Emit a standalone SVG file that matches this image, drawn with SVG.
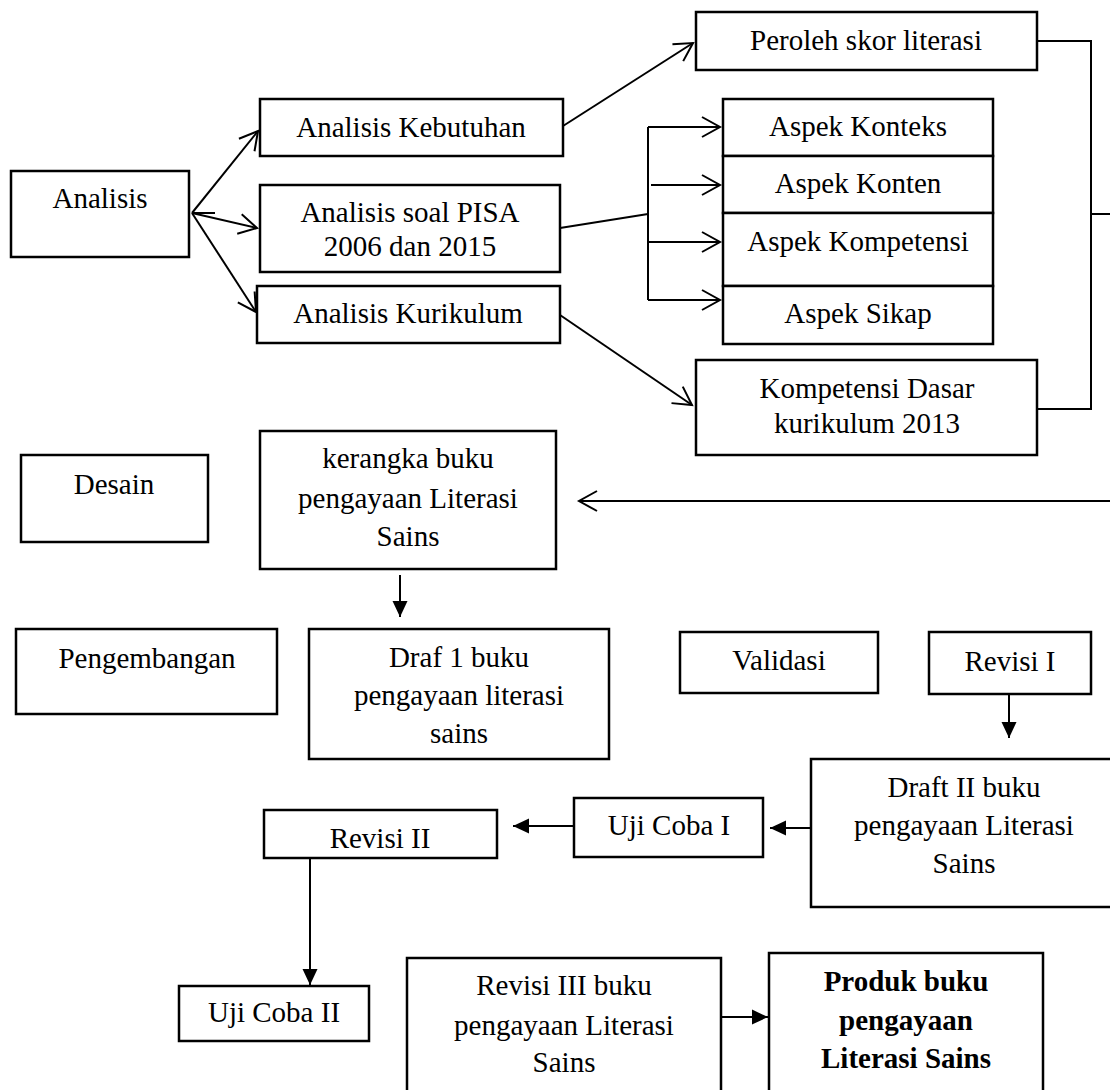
<svg xmlns="http://www.w3.org/2000/svg" width="1110" height="1090" viewBox="0 0 1110 1090">
<style>
.box{fill:#fff;stroke:#000;stroke-width:2.5}
.t{font-family:"Liberation Serif","Times New Roman",serif;font-size:29px;fill:#000;text-anchor:middle}
.b{font-weight:bold}
.ln{fill:none;stroke:#000;stroke-width:2}
</style>
<defs>
<marker id="open" markerUnits="userSpaceOnUse" viewBox="-22 -13 26 26" refX="0" refY="0" markerWidth="26" markerHeight="26" orient="auto">
<path d="M-18,-10 L0,0 L-18,10" fill="none" stroke="#000" stroke-width="2"/>
</marker>
<marker id="filled" markerUnits="userSpaceOnUse" viewBox="-18 -10 20 20" refX="0" refY="0" markerWidth="20" markerHeight="20" orient="auto">
<path d="M-16,-7.5 L0,0 L-16,7.5 Z" fill="#000"/>
</marker>
</defs>
<rect width="1110" height="1090" fill="#fff"/>

<g id="connectors">
<line class="ln" x1="192" y1="213" x2="258" y2="131" marker-end="url(#open)"/>
<line class="ln" x1="192" y1="213" x2="257" y2="228" marker-end="url(#open)"/>
<line class="ln" x1="192" y1="213" x2="256" y2="312" marker-end="url(#open)"/>
<line class="ln" x1="192" y1="213" x2="215" y2="213"/>
<line class="ln" x1="563" y1="126" x2="693" y2="43" marker-end="url(#open)"/>
<line class="ln" x1="560" y1="228" x2="648" y2="214"/>
<line class="ln" x1="648" y1="127" x2="648" y2="300"/>
<line class="ln" x1="648" y1="127" x2="720" y2="127" marker-end="url(#open)"/>
<line class="ln" x1="651" y1="185" x2="720" y2="185" marker-end="url(#open)"/>
<line class="ln" x1="648" y1="242" x2="720" y2="242" marker-end="url(#open)"/>
<line class="ln" x1="648" y1="300" x2="720" y2="300" marker-end="url(#open)"/>
<line class="ln" x1="560" y1="315" x2="692" y2="405" marker-end="url(#open)"/>
<polyline class="ln" points="1037,41 1091,41 1091,409 1037,409"/>
<line class="ln" x1="1091" y1="214" x2="1112" y2="214"/>
<line class="ln" x1="1112" y1="501" x2="579" y2="501" marker-end="url(#open)"/>
<line class="ln" x1="400" y1="575" x2="400" y2="617" marker-end="url(#filled)"/>
<line class="ln" x1="1009" y1="694" x2="1009" y2="738" marker-end="url(#filled)"/>
<line class="ln" x1="811" y1="828" x2="770" y2="828" marker-end="url(#filled)"/>
<line class="ln" x1="574" y1="826" x2="513" y2="826" marker-end="url(#filled)"/>
<line class="ln" x1="310" y1="858" x2="310" y2="985" marker-end="url(#filled)"/>
<line class="ln" x1="721" y1="1017" x2="768" y2="1017" marker-end="url(#filled)"/>
</g>

<g id="analisis"><rect class="box" x="11" y="171" width="178" height="86"/><text class="t" x="100" y="208">Analisis</text></g>
<g id="analisis-kebutuhan"><rect class="box" x="260" y="99" width="303" height="57"/><text class="t" x="411" y="137">Analisis Kebutuhan</text></g>
<g id="analisis-pisa"><rect class="box" x="260" y="185" width="300" height="87"/><text class="t" x="410" y="222">Analisis soal PISA</text><text class="t" x="410" y="256">2006 dan 2015</text></g>
<g id="analisis-kurikulum"><rect class="box" x="257" y="286" width="303" height="57"/><text class="t" x="408" y="323">Analisis Kurikulum</text></g>
<g id="peroleh"><rect class="box" x="696" y="12" width="341" height="58"/><text class="t" x="866" y="50">Peroleh skor literasi</text></g>
<g id="aspek-konteks"><rect class="box" x="723" y="99" width="270" height="57"/><text class="t" x="858" y="136">Aspek Konteks</text></g>
<g id="aspek-konten"><rect class="box" x="723" y="156" width="270" height="57"/><text class="t" x="858" y="193">Aspek Konten</text></g>
<g id="aspek-kompetensi"><rect class="box" x="723" y="213" width="270" height="73"/><text class="t" x="858" y="251">Aspek Kompetensi</text></g>
<g id="aspek-sikap"><rect class="box" x="723" y="286" width="270" height="58"/><text class="t" x="858" y="323">Aspek Sikap</text></g>
<g id="kompetensi-dasar"><rect class="box" x="696" y="360" width="341" height="95"/><text class="t" x="867" y="398">Kompetensi Dasar</text><text class="t" x="867" y="433">kurikulum 2013</text></g>
<g id="desain"><rect class="box" x="21" y="455" width="187" height="87"/><text class="t" x="114" y="494">Desain</text></g>
<g id="kerangka"><rect class="box" x="260" y="431" width="296" height="138"/><text class="t" x="408" y="468">kerangka buku</text><text class="t" x="408" y="508">pengayaan Literasi</text><text class="t" x="408" y="546">Sains</text></g>
<g id="pengembangan"><rect class="box" x="16" y="629" width="261" height="85"/><text class="t" x="147" y="668">Pengembangan</text></g>
<g id="draf1"><rect class="box" x="309" y="629" width="300" height="130"/><text class="t" x="459" y="667">Draf 1 buku</text><text class="t" x="459" y="705">pengayaan literasi</text><text class="t" x="459" y="743">sains</text></g>
<g id="validasi"><rect class="box" x="680" y="632" width="198" height="61"/><text class="t" x="779" y="670">Validasi</text></g>
<g id="revisi1"><rect class="box" x="929" y="632" width="162" height="62"/><text class="t" x="1010" y="671">Revisi I</text></g>
<g id="draft2"><rect class="box" x="811" y="759" width="306" height="148"/><text class="t" x="964" y="797">Draft II buku</text><text class="t" x="964" y="835">pengayaan Literasi</text><text class="t" x="964" y="873">Sains</text></g>
<g id="ujicoba1"><rect class="box" x="574" y="798" width="189" height="59"/><text class="t" x="669" y="835">Uji Coba I</text></g>
<g id="revisi2"><rect class="box" x="264" y="810" width="233" height="48"/><text class="t" x="380" y="848">Revisi II</text></g>
<g id="ujicoba2"><rect class="box" x="179" y="986" width="190" height="55"/><text class="t" x="274" y="1022">Uji Coba II</text></g>
<g id="revisi3"><rect class="box" x="407" y="958" width="314" height="150"/><text class="t" x="564" y="995">Revisi III buku</text><text class="t" x="564" y="1035">pengayaan Literasi</text><text class="t" x="564" y="1072">Sains</text></g>
<g id="produk"><rect class="box" x="769" y="953" width="274" height="155"/><text class="t b" x="906" y="991">Produk buku</text><text class="t b" x="906" y="1030">pengayaan</text><text class="t b" x="906" y="1068">Literasi Sains</text></g>
</svg>
